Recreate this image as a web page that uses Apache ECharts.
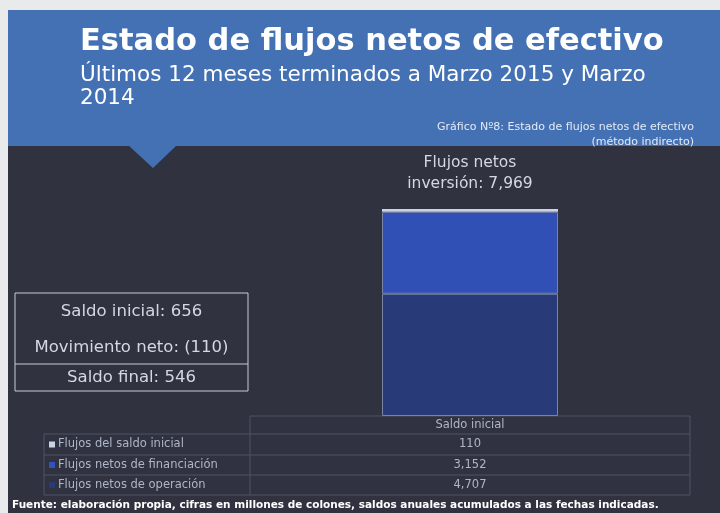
<!DOCTYPE html>
<html>
<head>
<meta charset="utf-8">
<script src="https://cdn.jsdelivr.net/npm/echarts@6/dist/echarts.min.js"></script>
<style>
  html, body { margin: 0; padding: 0; background: #e9eaec; }
  #chart { width: 720px; height: 513px; }
</style>
</head>
<body>
<div id="chart"></div>
<script>
// Data
const categories = ['Saldo inicial'];
const seriesNames = ['Flujos del saldo inicial', 'Flujos netos de financiación', 'Flujos netos de operación'];
const saldoInicialFlujos = [110];
const financiacion = [3152];
const operacion = [4707];
const inversionTotal = 7969;
const summaryLabels = ['Saldo inicial: 656', 'Movimiento neto: (110)', 'Saldo final: 546'];
const tableValues = ['110', '3,152', '4,707'];

const FONT = 'DejaVu Sans';
const txtLight = '#d4d8e2';
const txtDim = '#aeb5c8';
const lineCol = '#4c5266';

// grid / table geometry
const gridLeft = 250, gridRight = 690, gridTop = 209, gridBottom = 416;
const rowH = [18, 21, 20, 20];

const chart = echarts.init(document.getElementById('chart'));

function txt(x, y, text, size, fill, extra) {
    return { type: 'text', x: x, y: y,
        style: Object.assign({ text: text, fill: fill, fontFamily: FONT, fontSize: size }, extra || {}) };
}

function buildGraphics() {
    const g = [];
    // panel backgrounds
    g.push({ type: 'rect', shape: { x: 8, y: 10, width: 712, height: 503 }, style: { fill: '#30333f' }, z: -10 });
    g.push({ type: 'rect', shape: { x: 8, y: 10, width: 712, height: 136 }, style: { fill: '#4471b3' }, z: -9 });
    g.push({ type: 'polygon', shape: { points: [[128, 145], [177, 145], [153, 168]] }, style: { fill: '#4471b3' }, z: -9 });

    // titles
    g.push(txt(80, 27, 'Estado de flujos netos de efectivo', 30.5, '#ffffff', { fontWeight: 'bold' }));
    g.push(txt(80, 64, 'Últimos 12 meses terminados a Marzo 2015 y Marzo\n2014', 21.5, '#ffffff', { lineHeight: 23 }));
    g.push(txt(694, 120, 'Gráfico Nº8: Estado de flujos netos de efectivo\n(método indirecto)', 11, '#e4eaf5', { align: 'right', lineHeight: 15 }));

    // bar label
    g.push(txt(470, 152, 'Flujos netos\ninversión: ' + inversionTotal.toLocaleString('en-US'), 15.5, txtLight, { align: 'center', lineHeight: 21 }));

    // summary box
    const bx = 15, bw = 233, by = 293;
    g.push({ type: 'rect', shape: { x: bx, y: by, width: bw, height: 98 }, style: { fill: 'none', stroke: '#c8ccd6', lineWidth: 1 } });
    g.push({ type: 'line', shape: { x1: bx, y1: 364, x2: bx + bw, y2: 364 }, style: { stroke: '#c8ccd6', lineWidth: 1 } });
    const sy = [312, 348, 378];
    summaryLabels.forEach((t, i) => {
        g.push(txt(bx + bw / 2, sy[i], t, 16.5, txtLight, { align: 'center', verticalAlign: 'middle' }));
    });

    // data table
    const tLeft = 44;
    const tableBottom = gridBottom + rowH.reduce((a, b) => a + b, 0);
    let y = gridBottom;
    const xc = (gridLeft + gridRight) / 2;
    g.push({ type: 'line', shape: { x1: gridLeft, y1: y, x2: gridRight, y2: y }, style: { stroke: lineCol } });
    g.push(txt(xc, y + rowH[0] / 2, categories[0], 11.5, txtDim, { align: 'center', verticalAlign: 'middle' }));
    g.push({ type: 'line', shape: { x1: gridRight, y1: y, x2: gridRight, y2: tableBottom }, style: { stroke: lineCol } });
    g.push({ type: 'line', shape: { x1: gridLeft, y1: y, x2: gridLeft, y2: tableBottom }, style: { stroke: lineCol } });
    y += rowH[0];
    const markColors = ['#c9d3e8', '#3352c0', '#283a78'];
    seriesNames.forEach((name, i) => {
        const h = rowH[i + 1];
        g.push({ type: 'line', shape: { x1: tLeft, y1: y, x2: gridRight, y2: y }, style: { stroke: lineCol } });
        g.push({ type: 'rect', shape: { x: tLeft + 5, y: y + h / 2 - 3, width: 6, height: 6 }, style: { fill: markColors[i] } });
        g.push(txt(tLeft + 14, y + h / 2, name, 11.5, txtDim, { verticalAlign: 'middle' }));
        g.push(txt(xc, y + h / 2, tableValues[i], 11.5, txtDim, { align: 'center', verticalAlign: 'middle' }));
        y += h;
    });
    g.push({ type: 'line', shape: { x1: tLeft, y1: y, x2: gridRight, y2: y }, style: { stroke: lineCol } });
    g.push({ type: 'line', shape: { x1: tLeft, y1: gridBottom + rowH[0], x2: tLeft, y2: y }, style: { stroke: lineCol } });

    // footer
    g.push(txt(12, 505, 'Fuente: elaboración propia, cifras en millones de colones, saldos anuales acumulados a las fechas indicadas.', 10.5, '#ffffff', { fontWeight: 'bold', verticalAlign: 'middle' }));
    return g;
}

chart.setOption({
    backgroundColor: 'transparent',
    animation: false,
    grid: { left: gridLeft, right: 720 - gridRight, top: gridTop, bottom: 513 - gridBottom },
    xAxis: { type: 'category', data: categories, show: false },
    yAxis: { type: 'value', min: 0, max: inversionTotal, show: false },
    graphic: buildGraphics(),
    series: [
        { name: seriesNames[2], type: 'bar', stack: 'total', data: operacion, barWidth: '40%',
          itemStyle: { color: '#283a78', borderColor: '#7a84a6', borderWidth: 1 } },
        { name: seriesNames[1], type: 'bar', stack: 'total', data: financiacion,
          itemStyle: { color: '#3050b6', borderColor: '#7a84a6', borderWidth: 1 } },
        { name: seriesNames[0], type: 'bar', stack: 'total', data: saldoInicialFlujos,
          itemStyle: { color: '#c9d3e8' } }
    ]
});

window.addEventListener('resize', () => chart.resize());
</script>
</body>
</html>
